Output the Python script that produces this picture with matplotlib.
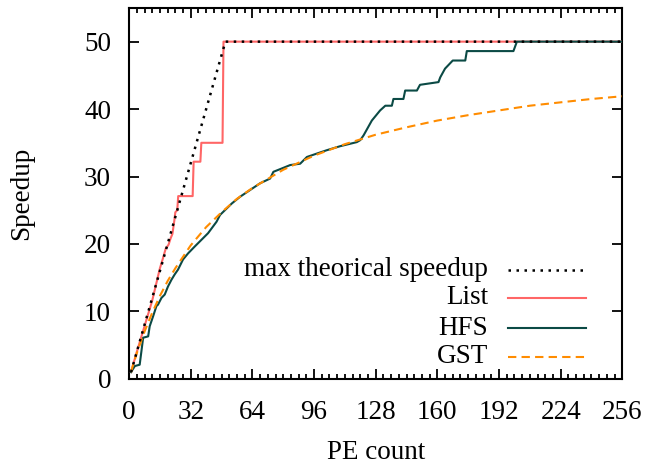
import matplotlib
matplotlib.use("Agg")
import matplotlib.pyplot as plt
from matplotlib.ticker import MultipleLocator

plt.rcParams['font.family'] = ['Liberation Serif', 'DejaVu Serif']
plt.rcParams['font.size'] = 19.5

# max theoretical speedup
max_x = [1, 50, 256]
max_y = [1, 50, 50]

# List (step-like)
list_x = [1, 4, 8, 12, 16, 17.5, 19, 20.5, 21.5, 22.5, 23.5, 24, 25, 25.5, 33, 33.5,
          37, 37.5, 48.5, 49, 256]
list_y = [1, 4, 7.8, 11.6, 16.4, 17.8, 19.3, 19.9, 20.8, 21.5, 23.5, 24.7, 25, 27.1, 27.1, 32.2,
          32.2, 35, 35, 50, 50]

# HFS
hfs_x = [1, 3, 5.5, 6.4, 7.3, 9.9, 10.7, 12.5, 14.2, 15, 16.8, 18.5, 20.2, 22, 23.7, 25.4, 28,
         30.6, 34, 37.5, 41, 45.4, 47.2, 53.3, 57.6, 62.8, 68, 73.2, 74.9, 79.3, 83.6, 88.8,
         92.3, 97.4, 102.6, 109.6, 118.2, 120, 121.7, 126, 130.3, 133, 136.4, 137.2, 142.4,
         143.3, 149.4, 151, 160.6, 161.5, 164, 168, 174.5, 175.3, 199.5, 201.3, 256]
hfs_y = [1, 1.9, 2.1, 4.1, 6.1, 6.3, 7.8, 9.3, 10.8, 11, 12, 12.5, 13.7, 14.7, 15.5, 16.2, 17.7,
         18.6, 19.6, 20.6, 21.6, 23.3, 24.3, 26, 27, 28, 29, 29.7, 30.7, 31.2, 31.7, 31.9,
         32.9, 33.4, 33.9, 34.5, 35.1, 35.4, 36.1, 38.3, 39.8, 40.5, 40.5, 41.5, 41.5,
         42.75, 42.75, 43.6, 44, 44.7, 46, 47.2, 47.2, 48.6, 48.6, 50, 50]

# GST
gst_x = [1, 2, 4, 8, 12, 16, 20, 24, 32, 40, 48, 56, 64, 80, 96, 112, 128, 144, 160, 176,
         192, 208, 224, 240, 256]
gst_y = [1.0, 2.0, 3.8, 7.0, 9.8, 12.3, 14.5, 16.4, 19.8, 22.5, 24.7, 26.7, 28.3, 31.0, 33.1,
         34.8, 36.2, 37.3, 38.3, 39.1, 39.8, 40.5, 41.0, 41.5, 41.9]

labels = ['max theorical speedup', 'List', 'HFS', 'GST']
colors = ['black', '#ff6666', '#0b4a45', '#ff8c00']
styles = [(0, (1, 2.2)), '-', '-', (0, (4, 2.5))]

fig = plt.figure(figsize=(6.62, 4.66), dpi=100)
ax = fig.add_axes([0.195, 0.187, 0.745, 0.796])

series = [(max_x, max_y), (list_x, list_y), (hfs_x, hfs_y), (gst_x, gst_y)]
order = [1, 2, 3, 0]  # dotted on top
for i in order:
    xs, ys = series[i]
    lw = 1.8 if i == 0 else 1.5
    ax.plot(xs, ys, color=colors[i], linestyle=styles[i], linewidth=lw, zorder=3 + (i == 0))

ax.set_xlim(0, 256)
ax.set_ylim(0, 55)
ax.xaxis.set_major_locator(MultipleLocator(32))
ax.xaxis.set_minor_locator(MultipleLocator(4))
ax.yaxis.set_major_locator(MultipleLocator(10))
ax.tick_params(which='both', direction='in', top=True, right=True, width=1.3)
ax.tick_params(which='major', length=7)
ax.tick_params(which='minor', length=3.5)
ax.tick_params(axis='x', pad=15)
ax.tick_params(axis='y', pad=13)
for s in ax.spines.values():
    s.set_linewidth(1.5)

ax.set_xlabel('PE count', labelpad=11)
ax.set_ylabel('Speedup', labelpad=36)

# legend by hand, text right aligned like gnuplot
rows_y = [0.294, 0.218, 0.137, 0.059]
for i in range(4):
    ax.text(0.728, rows_y[i], labels[i], transform=ax.transAxes, ha='right', va='center')
    ax.plot([0.769, 0.927], [rows_y[i], rows_y[i]], transform=ax.transAxes,
            color=colors[i], linestyle=styles[i], linewidth=1.8 if i == 0 else 1.5)

fig.savefig('out.png', dpi=100)
